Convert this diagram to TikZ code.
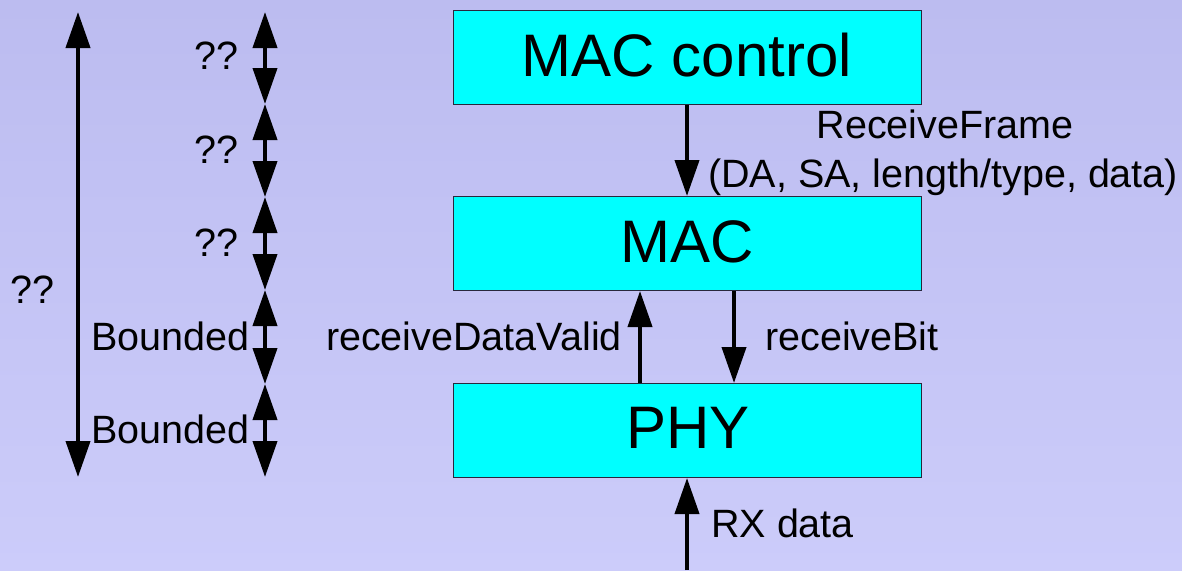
\documentclass[tikz,border=0pt]{standalone}
\usepackage{fontspec}
\setmainfont{Liberation Sans}
\usetikzlibrary{arrows.meta}
\definecolor{bgtop}{RGB}{188,188,240}
\definecolor{bgbot}{RGB}{204,204,250}
\definecolor{boxfill}{RGB}{0,255,255}
\definecolor{boxline}{RGB}{40,40,60}
\begin{document}
\begin{tikzpicture}[x=1pt,y=-1pt,
  layer/.style={draw=boxline, line width=1pt, fill=boxfill, minimum width=468pt, minimum height=94pt, inner sep=0pt,
    font=\fontsize{60}{70}\selectfont},
  arr/.style={line width=4pt, -{Triangle[width=24pt,length=36pt]}},
  darr/.style={line width=4pt, {Triangle[width=24pt,length=36pt]}-{Triangle[width=24pt,length=36pt]}},
  lbl/.style={font=\fontsize{39.5}{46}\selectfont, inner sep=0pt}]
\fill[top color=bgtop, bottom color=bgbot] (0,0) rectangle (1182,570);
\useasboundingbox (0,0) rectangle (1182,570);

\node[layer] (mc) at (687,57) {};
\node[lbl, font=\fontsize{60}{70}\selectfont, anchor=base] (mct) at (687,76) {MAC control};
\node[layer] (mac) at (687,243.5) {};
\node[lbl, font=\fontsize{60}{70}\selectfont, anchor=base] (mact) at (687,262) {MAC};
\node[layer] (phy) at (687,430.5) {};
\node[lbl, font=\fontsize{60}{70}\selectfont, anchor=base] (phyt) at (688,448) {PHY};

\draw[arr] (mc.south) -- (mac.north);
\draw[arr] ([xshift=-47pt]phy.north) -- ([xshift=-47pt]mac.south);
\draw[arr] ([xshift=47pt]mac.south) -- ([xshift=47pt]phy.north);
\coordinate (rxin) at (687,570);
\draw[arr] (rxin) -- (phy.south);

\node[lbl, anchor=base] (rf) at (945,138) {ReceiveFrame};
\node[lbl, anchor=base west] (rfargs) at (708,187) {(DA, SA, length/type, data)};
\node[lbl, anchor=base east] (rdv) at (622,350) {receiveDataValid};
\node[lbl, anchor=base west] (rb) at (765,350) {receiveBit};
\node[lbl, anchor=base west] (rx) at (711,537) {RX data};

% timing arrows
\coordinate (b0) at (265,12);
\coordinate (b1) at (265,104);
\coordinate (b2) at (265,197);
\coordinate (b3) at (265,290);
\coordinate (b4) at (265,384);
\coordinate (b5) at (265,477);
\draw[darr] (b0) -- (b1);
\draw[darr] (b1) -- (b2);
\draw[darr] (b2) -- (b3);
\draw[darr] (b3) -- (b4);
\draw[darr] (b4) -- (b5);
\coordinate (l0) at (78,12);
\coordinate (l1) at (78,477);
\draw[darr] (l0) -- (l1);

\node[lbl, anchor=base east] (q1) at (239,69) {??};
\node[lbl, anchor=base east] (q2) at (239,163) {??};
\node[lbl, anchor=base east] (q3) at (239,256) {??};
\node[lbl, anchor=base east] (bd1) at (250,350) {Bounded};
\node[lbl, anchor=base east] (bd2) at (250,443) {Bounded};
\node[lbl, anchor=base west] (qall) at (10,303) {??};
\end{tikzpicture}
\end{document}
